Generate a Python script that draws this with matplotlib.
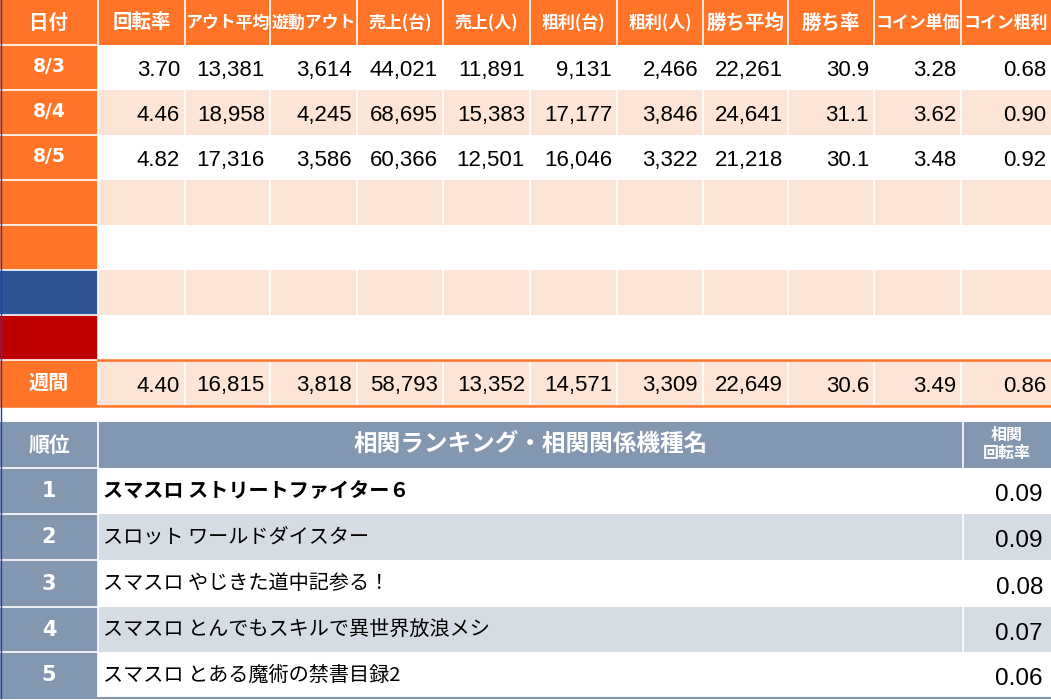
import matplotlib
matplotlib.use("Agg")
import matplotlib.pyplot as plt
from matplotlib.patches import Rectangle

plt.rcParams['font.family'] = ['Noto Sans CJK JP', 'DejaVu Sans']

# ---- data ----
headers = ["日付", "回転率", "アウト平均", "遊動アウト", "売上(台)", "売上(人)", "粗利(台)",
           "粗利(人)", "勝ち平均", "勝ち率", "コイン単価", "コイン粗利"]
dates = ["8/3", "8/4", "8/5", "", "", "", "", "週間"]
row_values = [
    ["3.70", "13,381", "3,614", "44,021", "11,891", "9,131", "2,466", "22,261", "30.9", "3.28", "0.68"],
    ["4.46", "18,958", "4,245", "68,695", "15,383", "17,177", "3,846", "24,641", "31.1", "3.62", "0.90"],
    ["4.82", "17,316", "3,586", "60,366", "12,501", "16,046", "3,322", "21,218", "30.1", "3.48", "0.92"],
    [], [], [], [],
    ["4.40", "16,815", "3,818", "58,793", "13,352", "14,571", "3,309", "22,649", "30.6", "3.49", "0.86"],
]
rank_title = "相関ランキング・相関関係機種名"
rank_header = "順位"
value_header = "相関\n回転率"
ranks = ["1", "2", "3", "4", "5"]
machines = ["スマスロ ストリートファイター６", "スロット ワールドダイスター", "スマスロ やじきた道中記参る！",
            "スマスロ とんでもスキルで異世界放浪メシ", "スマスロ とある魔術の禁書目録2"]
corr_values = ["0.09", "0.09", "0.08", "0.07", "0.06"]

# ---- style ----
ORANGE = "#FF7427"
PEACH = "#FCE4D6"
BLUE = "#2F5597"
RED = "#C00000"
SLATE = "#8497B0"
LIGHTSLATE = "#D6DCE4"
NUMFONT = ["Liberation Sans", "DejaVu Sans"]
BOLDNUM = ["DejaVu Sans"]
JPFONT = ["Noto Sans CJK JP", "DejaVu Sans"]

W, H = 1051, 700
fig = plt.figure(figsize=(W / 100, H / 100), dpi=100)
ax = fig.add_axes([0, 0, 1, 1])
ax.set_xlim(0, W)
ax.set_ylim(H, 0)
ax.axis("off")

col_x = [0, 98, 185, 270, 357, 443, 530, 617, 703, 788, 874, 961, 1051]
row_y = [0, 45, 90, 135, 180, 225, 270, 315, 360, 406]
date_colors = [ORANGE, ORANGE, ORANGE, ORANGE, ORANGE, BLUE, RED, ORANGE]
row_bg = ["white", PEACH, "white", PEACH, "white", PEACH, "white", PEACH]

def rect(x0, y0, x1, y1, color):
    ax.add_patch(Rectangle((x0, y0), x1 - x0, y1 - y0, facecolor=color, edgecolor="none"))

# header
for c in range(len(headers)):
    rect(col_x[c], row_y[0], col_x[c + 1], row_y[1], ORANGE)
    fs = 12.2 if len(headers[c]) >= 5 else 14
    ax.text((col_x[c] + col_x[c + 1]) / 2, 23, headers[c], color="white", fontsize=fs,
            fontweight="bold", ha="center", va="center")

# body rows
for r in range(len(dates)):
    y0, y1 = row_y[r + 1], row_y[r + 2]
    rect(col_x[0], y0, col_x[1], y1, date_colors[r])
    rect(col_x[1], y0, col_x[-1], y1, row_bg[r])
    if dates[r]:
        isnum = dates[r][0].isdigit()
        ax.text(49, (y0 + y1) / 2 - 1, dates[r], color="white", fontsize=13.5 if isnum else 14.5,
                fontweight="bold", ha="center", va="center", family=BOLDNUM if isnum else JPFONT)
    for c, v in enumerate(row_values[r]):
        ax.text(col_x[c + 2] - 5, (y0 + y1) / 2 + 3, v, color="black", fontsize=16,
                family=NUMFONT, ha="right", va="center")

# white grid lines top table
for x in col_x[1:-1]:
    ax.plot([x, x], [0, row_y[-1]], color="white", lw=1.2)
for y in row_y[1:-1]:
    ax.plot([0, col_x[1]], [y, y], color="white", lw=1.2)
# week row orange borders
ax.plot([col_x[1], W], [360, 360], color=ORANGE, lw=1.8)
ax.plot([0, W], [406, 406], color=ORANGE, lw=1.8)

# lower table
lr_y = [422, 468, 514, 560, 607, 652, 698]
lc_x = [0, 98, 963, 1051]
rect(0, lr_y[0], W, lr_y[1], SLATE)
ax.text(49, (lr_y[0] + lr_y[1]) / 2, rank_header, color="white", fontsize=15, fontweight="bold",
        ha="center", va="center")
ax.text((lc_x[1] + lc_x[2]) / 2, (lr_y[0] + lr_y[1]) / 2, rank_title, color="white", fontsize=17,
        fontweight="bold", ha="center", va="center")
ax.text((lc_x[2] + lc_x[3]) / 2, (lr_y[0] + lr_y[1]) / 2 - 1, value_header, color="white", fontsize=11.5,
        fontweight="bold", ha="center", va="center", linespacing=1.15)
for i in range(len(ranks)):
    y0, y1 = lr_y[i + 1], lr_y[i + 2]
    bg = "white" if i % 2 == 0 else LIGHTSLATE
    rect(0, y0, lc_x[1], y1, SLATE)
    rect(lc_x[1], y0, W, y1, bg)
    ax.text(49, (y0 + y1) / 2, ranks[i], color="white", fontsize=15, fontweight="bold",
            ha="center", va="center", family=BOLDNUM)
    ax.text(lc_x[1] + 5, (y0 + y1) / 2, machines[i], color="black", fontsize=14.5,
            fontweight="bold" if i == 0 else "normal", ha="left", va="center")
    ax.text(W - 8, (y0 + y1) / 2 + 4, corr_values[i], color="black", fontsize=17.5,
            family=NUMFONT, ha="right", va="center")
for x in lc_x[1:3]:
    ax.plot([x, x], [lr_y[0], lr_y[-1]], color="white", lw=1.2)
for y in lr_y[1:-1]:
    ax.plot([0, lc_x[1]], [y, y], color="white", lw=1.2)
ax.plot([0, W], [lr_y[-1], lr_y[-1]], color=SLATE, lw=1.5)
ax.plot([0.5, 0.5], [0, lr_y[-1]], color="#1F3FBF", lw=1)

fig.savefig("out.png", dpi=100)
